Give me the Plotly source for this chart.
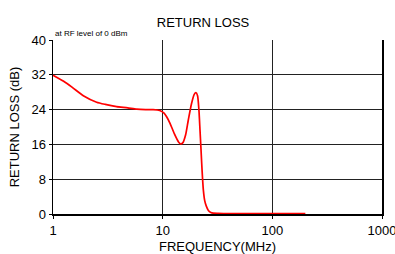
import plotly.graph_objects as go

freq_mhz = [1, 1.25, 1.5, 1.89, 2.5, 3.0, 3.8, 4.8, 5.8, 7.0, 8.2, 9.4, 10.3, 10.9, 11.7, 12.8, 14.0, 14.6, 15.3, 16.2, 17.1, 18.3, 19.4, 20.1, 20.8, 21.4, 21.9, 22.3, 22.7, 23.1, 23.5, 24.2, 25.0, 26.1, 27.5, 28.9, 32, 40, 60, 100, 150, 200]
return_loss_db = [31.9, 30.5, 29.1, 27.2, 25.7, 25.2, 24.7, 24.4, 24.1, 24.0, 24.0, 23.8, 23.2, 22.3, 20.8, 18.4, 16.5, 16.1, 16.4, 18.2, 21.5, 25.3, 27.5, 27.9, 27.2, 24.0, 19.3, 15.5, 11.6, 8.2, 5.5, 3.0, 1.8, 0.8, 0.35, 0.2, 0.15, 0.1, 0.1, 0.1, 0.1, 0.1]

x_tickvals = [1, 10, 100, 1000]
x_ticktext = ["1", "10", "100", "1000"]
y_tickvals = [0, 8, 16, 24, 32, 40]

font_family = "Liberation Sans, Arial, sans-serif"

fig = go.Figure()
fig.add_trace(go.Scatter(
    x=freq_mhz, y=return_loss_db, mode="lines",
    line=dict(color="#ff0000", width=1.7, shape="spline", smoothing=0.6),
    showlegend=False, hoverinfo="skip",
))

fig.update_layout(
    width=395, height=254,
    margin=dict(l=53, r=13, t=40, b=40, autoexpand=False),
    paper_bgcolor="white", plot_bgcolor="white",
    font=dict(family=font_family, color="black", size=13),
    title=dict(text="RETURN LOSS", x=0.514, xanchor="center", y=0.913, yanchor="middle",
               font=dict(size=13, family=font_family, color="black")),
    xaxis=dict(
        type="log", range=[0, 3], tickvals=x_tickvals, ticktext=x_ticktext,
        showgrid=True, gridcolor="#222222", gridwidth=1,
        showline=True, linecolor="black", linewidth=2, mirror=False,
        ticks="outside", ticklen=3, tickcolor="black",
        tickfont=dict(size=13, family=font_family), ticklabeloverflow="allow",
        title=dict(text="FREQUENCY(MHz)", font=dict(size=13, family=font_family), standoff=9),
        zeroline=False, automargin=False,
    ),
    yaxis=dict(
        range=[0, 40], tickvals=y_tickvals,
        showgrid=True, gridcolor="#222222", gridwidth=1,
        showline=True, linecolor="black", linewidth=1.5, mirror=True,
        ticks="outside", ticklen=3, tickcolor="black",
        tickfont=dict(size=13, family=font_family), ticklabeloverflow="allow",
        title=dict(text="RETURN LOSS (dB)", font=dict(size=13, family=font_family), standoff=9),
        zeroline=False, automargin=False,
    ),
    annotations=[dict(
        text="at RF level of 0 dBm", xref="paper", yref="paper", x=0, y=1.0,
        xanchor="left", yanchor="bottom", showarrow=False, yshift=0,
        font=dict(size=8, family=font_family, color="black"),
    )],
)

fig.write_html(
    "out.html",
    config={"displayModeBar": False, "staticPlot": True},
    post_script="document.body.style.margin='0';document.body.style.padding='0';",
)
